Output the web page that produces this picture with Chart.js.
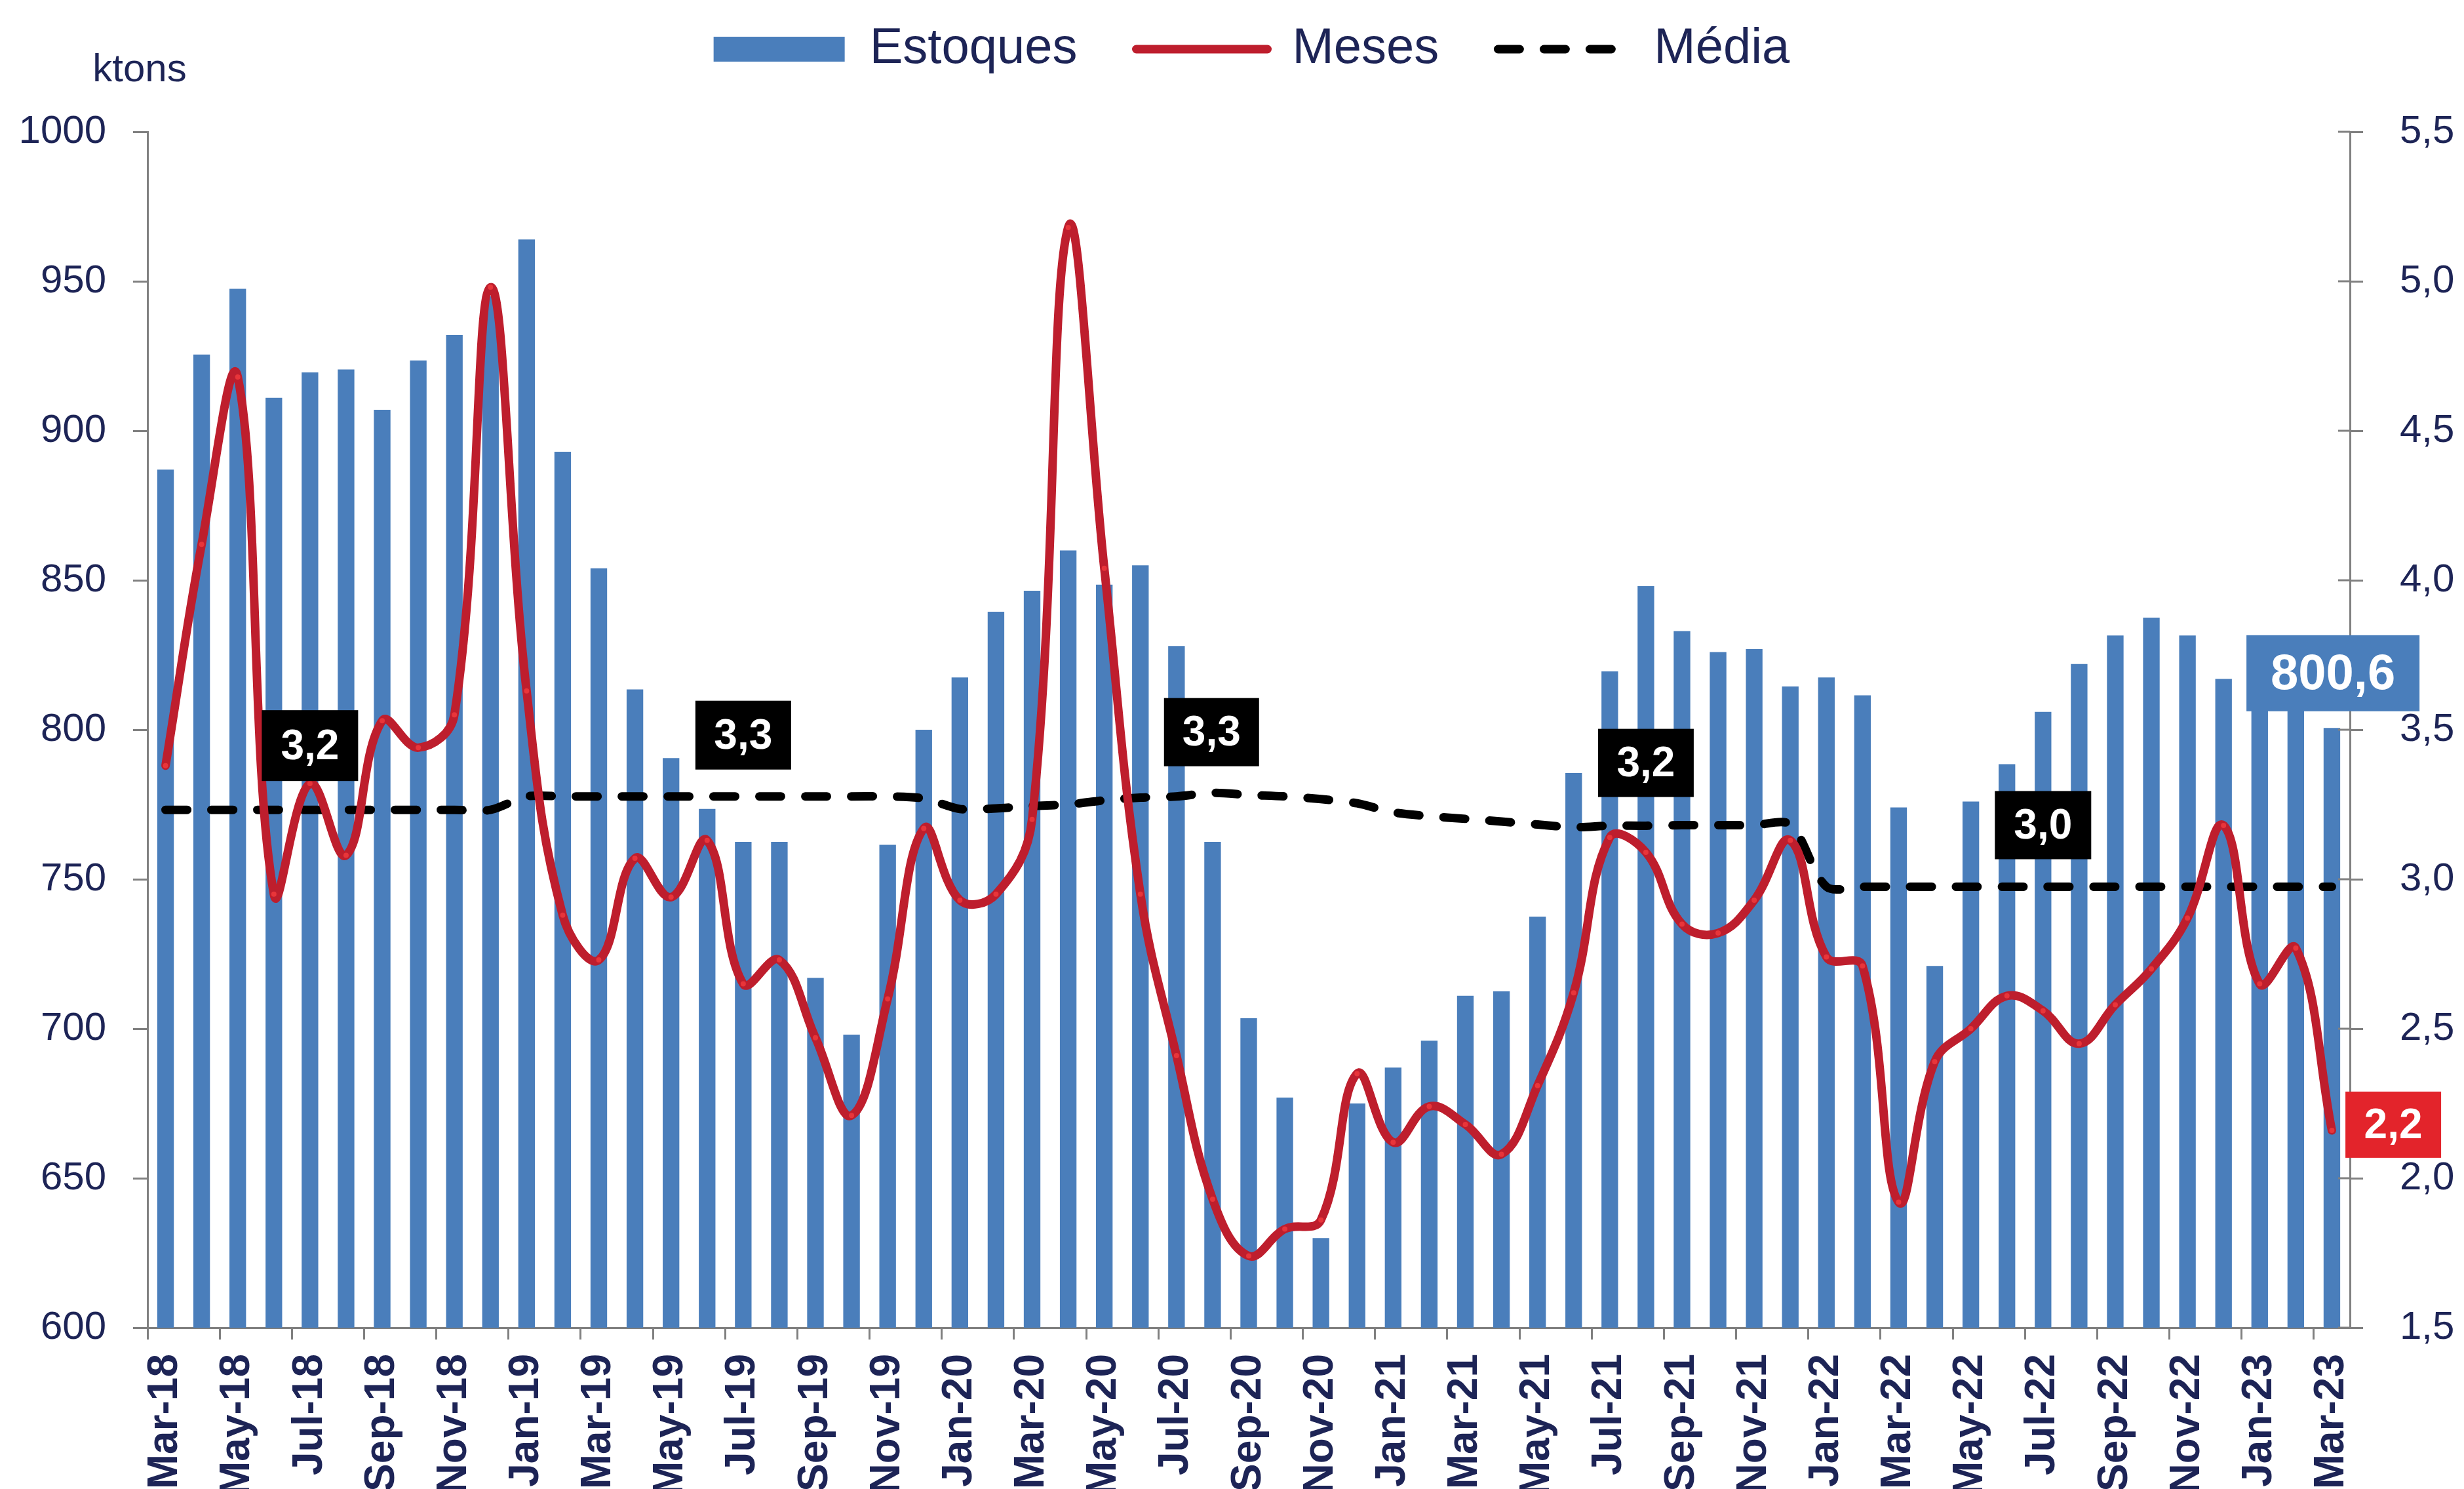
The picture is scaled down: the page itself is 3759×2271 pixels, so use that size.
<!DOCTYPE html>
<html lang="pt-BR">
<head>
<meta charset="UTF-8">
<title>Estoques x Meses de consumo</title>
<script src="https://cdn.jsdelivr.net/npm/chart.js@4.4.1/dist/chart.umd.min.js"></script>
<style>
    html, body { margin: 0; padding: 0; background: #ffffff; }
    canvas { display: block; }
</style>
</head>
<body>
<canvas id="graficoEstoques" width="3759" height="2271"></canvas>
<script>
// ============================================================
//  DADOS
// ============================================================

const meses = [
    'Mar-18', 'Apr-18', 'May-18', 'Jun-18', 'Jul-18', 'Aug-18', 'Sep-18', 'Oct-18', 'Nov-18', 'Dec-18',
    'Jan-19', 'Feb-19', 'Mar-19', 'Apr-19', 'May-19', 'Jun-19', 'Jul-19', 'Aug-19', 'Sep-19', 'Oct-19', 'Nov-19', 'Dec-19',
    'Jan-20', 'Feb-20', 'Mar-20', 'Apr-20', 'May-20', 'Jun-20', 'Jul-20', 'Aug-20', 'Sep-20', 'Oct-20', 'Nov-20', 'Dec-20',
    'Jan-21', 'Feb-21', 'Mar-21', 'Apr-21', 'May-21', 'Jun-21', 'Jul-21', 'Aug-21', 'Sep-21', 'Oct-21', 'Nov-21', 'Dec-21',
    'Jan-22', 'Feb-22', 'Mar-22', 'Apr-22', 'May-22', 'Jun-22', 'Jul-22', 'Aug-22', 'Sep-22', 'Oct-22', 'Nov-22', 'Dec-22',
    'Jan-23', 'Feb-23', 'Mar-23'
];

// Estoques (ktons) - eixo esquerdo
const estoques = [
    887, 925.5, 947.5, 911, 919.5, 920.5, 907, 923.5, 932, 945,
    964, 893, 854, 813.5, 790.5, 773.5, 762.5, 762.5, 717, 698, 761.5, 800,
    817.5, 839.5, 846.5, 860, 848.5, 855, 828, 762.5, 703.5, 677, 630, 675,
    687, 696, 711, 712.5, 737.5, 785.5, 819.5, 848, 833, 826, 827, 814.5,
    817.5, 811.5, 774, 721, 776, 788.5, 806, 822, 831.5, 837.5, 831.5, 817,
    819, 812, 800.6
];

// Meses de consumo - eixo direito
const mesesConsumo = [
    3.38, 4.12, 4.68, 2.95, 3.32, 3.08, 3.53, 3.44, 3.55, 4.98,
    3.63, 2.88, 2.73, 3.07, 2.94, 3.13, 2.65, 2.73, 2.47, 2.21, 2.60, 3.17,
    2.93, 2.95, 3.20, 5.18, 4.04, 2.95, 2.41, 1.93, 1.74, 1.83, 1.86, 2.35,
    2.12, 2.24, 2.18, 2.08, 2.31, 2.62, 3.14, 3.09, 2.85, 2.82, 2.93, 3.13,
    2.74, 2.71, 1.92, 2.39, 2.50, 2.61, 2.56, 2.45, 2.58, 2.70, 2.87, 3.18,
    2.65, 2.77, 2.16
];

// Média móvel dos meses de consumo - eixo direito
const media = [
    3.232, 3.232, 3.232, 3.232, 3.232, 3.232, 3.232, 3.232, 3.232, 3.232,
    3.277, 3.277, 3.277, 3.277, 3.277, 3.277, 3.277, 3.277, 3.277, 3.277, 3.277, 3.270,
    3.235, 3.237, 3.245, 3.250, 3.264, 3.273, 3.277, 3.289, 3.282, 3.277, 3.268, 3.254,
    3.224, 3.211, 3.202, 3.193, 3.183, 3.174, 3.179, 3.179, 3.181, 3.181, 3.181, 3.183,
    2.975, 2.975, 2.975, 2.975, 2.975, 2.975, 2.975, 2.975, 2.975, 2.975, 2.975, 2.975,
    2.975, 2.975, 2.975
];

const ticksKtons = [600, 650, 700, 750, 800, 850, 900, 950, 1000];
const ticksMeses = [1.5, 2.0, 2.5, 3.0, 3.5, 4.0, 4.5, 5.0, 5.5];

// Caixas de destaque (índice do mês e valor no eixo direito)
const destaques = [
    { texto: '3,2',   indice: 4,     valor: 3.447, fundo: '#000000', largura: 147, altura: 108, fonte: 64 },
    { texto: '3,3',   indice: 16,    valor: 3.482, fundo: '#000000', largura: 146, altura: 105, fonte: 64 },
    { texto: '3,3',   indice: 28.97, valor: 3.492, fundo: '#000000', largura: 145, altura: 104, fonte: 64 },
    { texto: '3,2',   indice: 41,    valor: 3.389, fundo: '#000000', largura: 146, altura: 104, fonte: 64 },
    { texto: '3,0',   indice: 52,    valor: 3.181, fundo: '#000000', largura: 147, altura: 104, fonte: 64 },
    { texto: '800,6', indice: 60.03, valor: 3.689, fundo: '#4A7EBB', largura: 264, altura: 116, fonte: 76 },
    { texto: '2,2',   indice: 61.7,  valor: 2.179, fundo: '#E3242B', largura: 146, altura: 101, fonte: 64 }
];

// ============================================================
//  ESTILO
// ============================================================

const fonte = "'Liberation Sans', Arial, sans-serif";
const corTexto = '#1D2456';
const corEixo = '#808080';
const corBarra = '#4A7EBB';
const corLinha = '#BE1E2D';

// ============================================================
//  PLUGINS
// ============================================================

// Espaço extra abaixo da legenda
const espacoLegenda = {
    id: 'espacoLegenda',
    beforeInit(chart) {
        const fitOriginal = chart.legend.fit;
        chart.legend.fit = function () {
            fitOriginal.call(this);
            this.height += 78;
        };
    }
};

// Marcas do eixo direito cruzando a linha, "ktons" e caixas de valores
const rotulosPlugin = {
    id: 'rotulos',
    afterDatasetsDraw(chart) {
        const { ctx, chartArea, scales: { x, y1 } } = chart;
        ctx.save();

        // marcas do eixo direito atravessam o eixo (estilo Excel)
        ctx.strokeStyle = corEixo;
        ctx.lineWidth = 3;
        y1.ticks.forEach(t => {
            const py = y1.getPixelForValue(t.value);
            ctx.beginPath();
            ctx.moveTo(chartArea.right - 18, py);
            ctx.lineTo(chartArea.right, py);
            ctx.stroke();
        });

        ctx.fillStyle = corTexto;
        ctx.font = `60px ${fonte}`;
        ctx.textAlign = 'center';
        ctx.textBaseline = 'alphabetic';
        ctx.fillText('ktons', chartArea.left - 12, chartArea.top - 77);

        destaques.forEach(d => {
            const cx = x.getPixelForValue(d.indice);
            const cy = y1.getPixelForValue(d.valor);
            ctx.fillStyle = d.fundo;
            ctx.fillRect(cx - d.largura / 2, cy - d.altura / 2, d.largura, d.altura);
            ctx.fillStyle = '#ffffff';
            ctx.font = `bold ${d.fonte}px ${fonte}`;
            ctx.textAlign = 'center';
            ctx.textBaseline = 'middle';
            ctx.fillText(d.texto, cx, cy + 3);
        });

        ctx.restore();
    }
};

// ============================================================
//  GRÁFICO
// ============================================================

function renderizarGrafico() {
    const ctx = document.getElementById('graficoEstoques');

    new Chart(ctx, {
        data: {
            labels: meses,
            datasets: [
                {
                    type: 'bar',
                    label: 'Estoques',
                    data: estoques,
                    yAxisID: 'y',
                    backgroundColor: corBarra,
                    borderWidth: 0,
                    categoryPercentage: 1,
                    barPercentage: 0.46,
                    order: 3
                },
                {
                    type: 'line',
                    label: 'Meses',
                    data: mesesConsumo,
                    yAxisID: 'y1',
                    borderColor: corLinha,
                    borderWidth: 13,
                    borderCapStyle: 'round',
                    borderJoinStyle: 'round',
                    tension: 0.4,
                    pointRadius: 4,
                    pointBackgroundColor: '#E8353A',
                    pointBorderWidth: 0,
                    order: 1
                },
                {
                    type: 'line',
                    label: 'Média',
                    data: media,
                    yAxisID: 'y1',
                    borderColor: '#000000',
                    borderWidth: 13,
                    borderDash: [33, 37],
                    borderCapStyle: 'round',
                    tension: 0.3,
                    pointRadius: 0,
                    order: 2
                }
            ]
        },
        options: {
            responsive: false,
            animation: false,
            devicePixelRatio: 1,
            events: [],
            layout: {
                // deslocamento à direita compensa a centralização da legenda
                padding: { top: -53, left: 0, right: -60, bottom: 0 }
            },
            plugins: {
                tooltip: { enabled: false },
                legend: {
                    position: 'top',
                    labels: {
                        usePointStyle: true,
                        pointStyleWidth: 200,
                        boxHeight: 38,
                        padding: 90,
                        color: corTexto,
                        font: { family: fonte, size: 76 },
                        sort: (a, b) => a.datasetIndex - b.datasetIndex,
                        generateLabels(chart) {
                            const itens = Chart.defaults.plugins.legend.labels.generateLabels(chart);
                            return itens.map(item => {
                                const ds = chart.data.datasets[item.datasetIndex];
                                if (ds.type === 'bar') {
                                    item.pointStyle = 'rect';
                                    item.fillStyle = ds.backgroundColor;
                                    item.lineWidth = 0;
                                } else {
                                    item.pointStyle = 'line';
                                    item.strokeStyle = ds.borderColor;
                                    item.lineWidth = ds.borderWidth;
                                    item.lineDash = ds.borderDash || [];
                                    item.lineCap = ds.borderCapStyle;
                                }
                                return item;
                            });
                        }
                    }
                }
            },
            scales: {
                x: {
                    offset: true,
                    afterFit: scale => { scale.height = 246; },
                    grid: {
                        offset: true,
                        drawOnChartArea: false,
                        tickLength: 18,
                        lineWidth: 3,
                        color: c => (c.index % 2 === 0 ? corEixo : 'rgba(0,0,0,0)')
                    },
                    border: { display: true, color: corEixo, width: 3 },
                    ticks: {
                        autoSkip: false,
                        minRotation: 90,
                        maxRotation: 90,
                        padding: 22,
                        color: corTexto,
                        font: { family: fonte, size: 64, weight: 'bold' },
                        callback: (valor, i) => (i % 2 === 0 ? meses[i] : '')
                    }
                },
                y: {
                    position: 'left',
                    min: 600,
                    max: 1000,
                    afterFit: scale => { scale.width = 225; },
                    afterBuildTicks: scale => { scale.ticks = ticksKtons.map(v => ({ value: v })); },
                    grid: { drawOnChartArea: false, tickLength: 22, lineWidth: 3, color: corEixo },
                    border: { display: true, color: corEixo, width: 3 },
                    ticks: {
                        padding: 41,
                        color: corTexto,
                        font: { family: fonte, size: 60 },
                        callback: valor => String(valor)
                    }
                },
                y1: {
                    position: 'right',
                    min: 1.5,
                    max: 5.5,
                    afterFit: scale => { scale.width = 234; },
                    afterBuildTicks: scale => { scale.ticks = ticksMeses.map(v => ({ value: v })); },
                    grid: { drawOnChartArea: false, tickLength: 20, lineWidth: 3, color: corEixo },
                    border: { display: true, color: corEixo, width: 3 },
                    ticks: {
                        padding: 56,
                        color: corTexto,
                        font: { family: fonte, size: 60 },
                        callback: valor => valor.toFixed(1).replace('.', ',')
                    }
                }
            }
        },
        plugins: [espacoLegenda, rotulosPlugin]
    });
}

renderizarGrafico();
</script>
</body>
</html>
